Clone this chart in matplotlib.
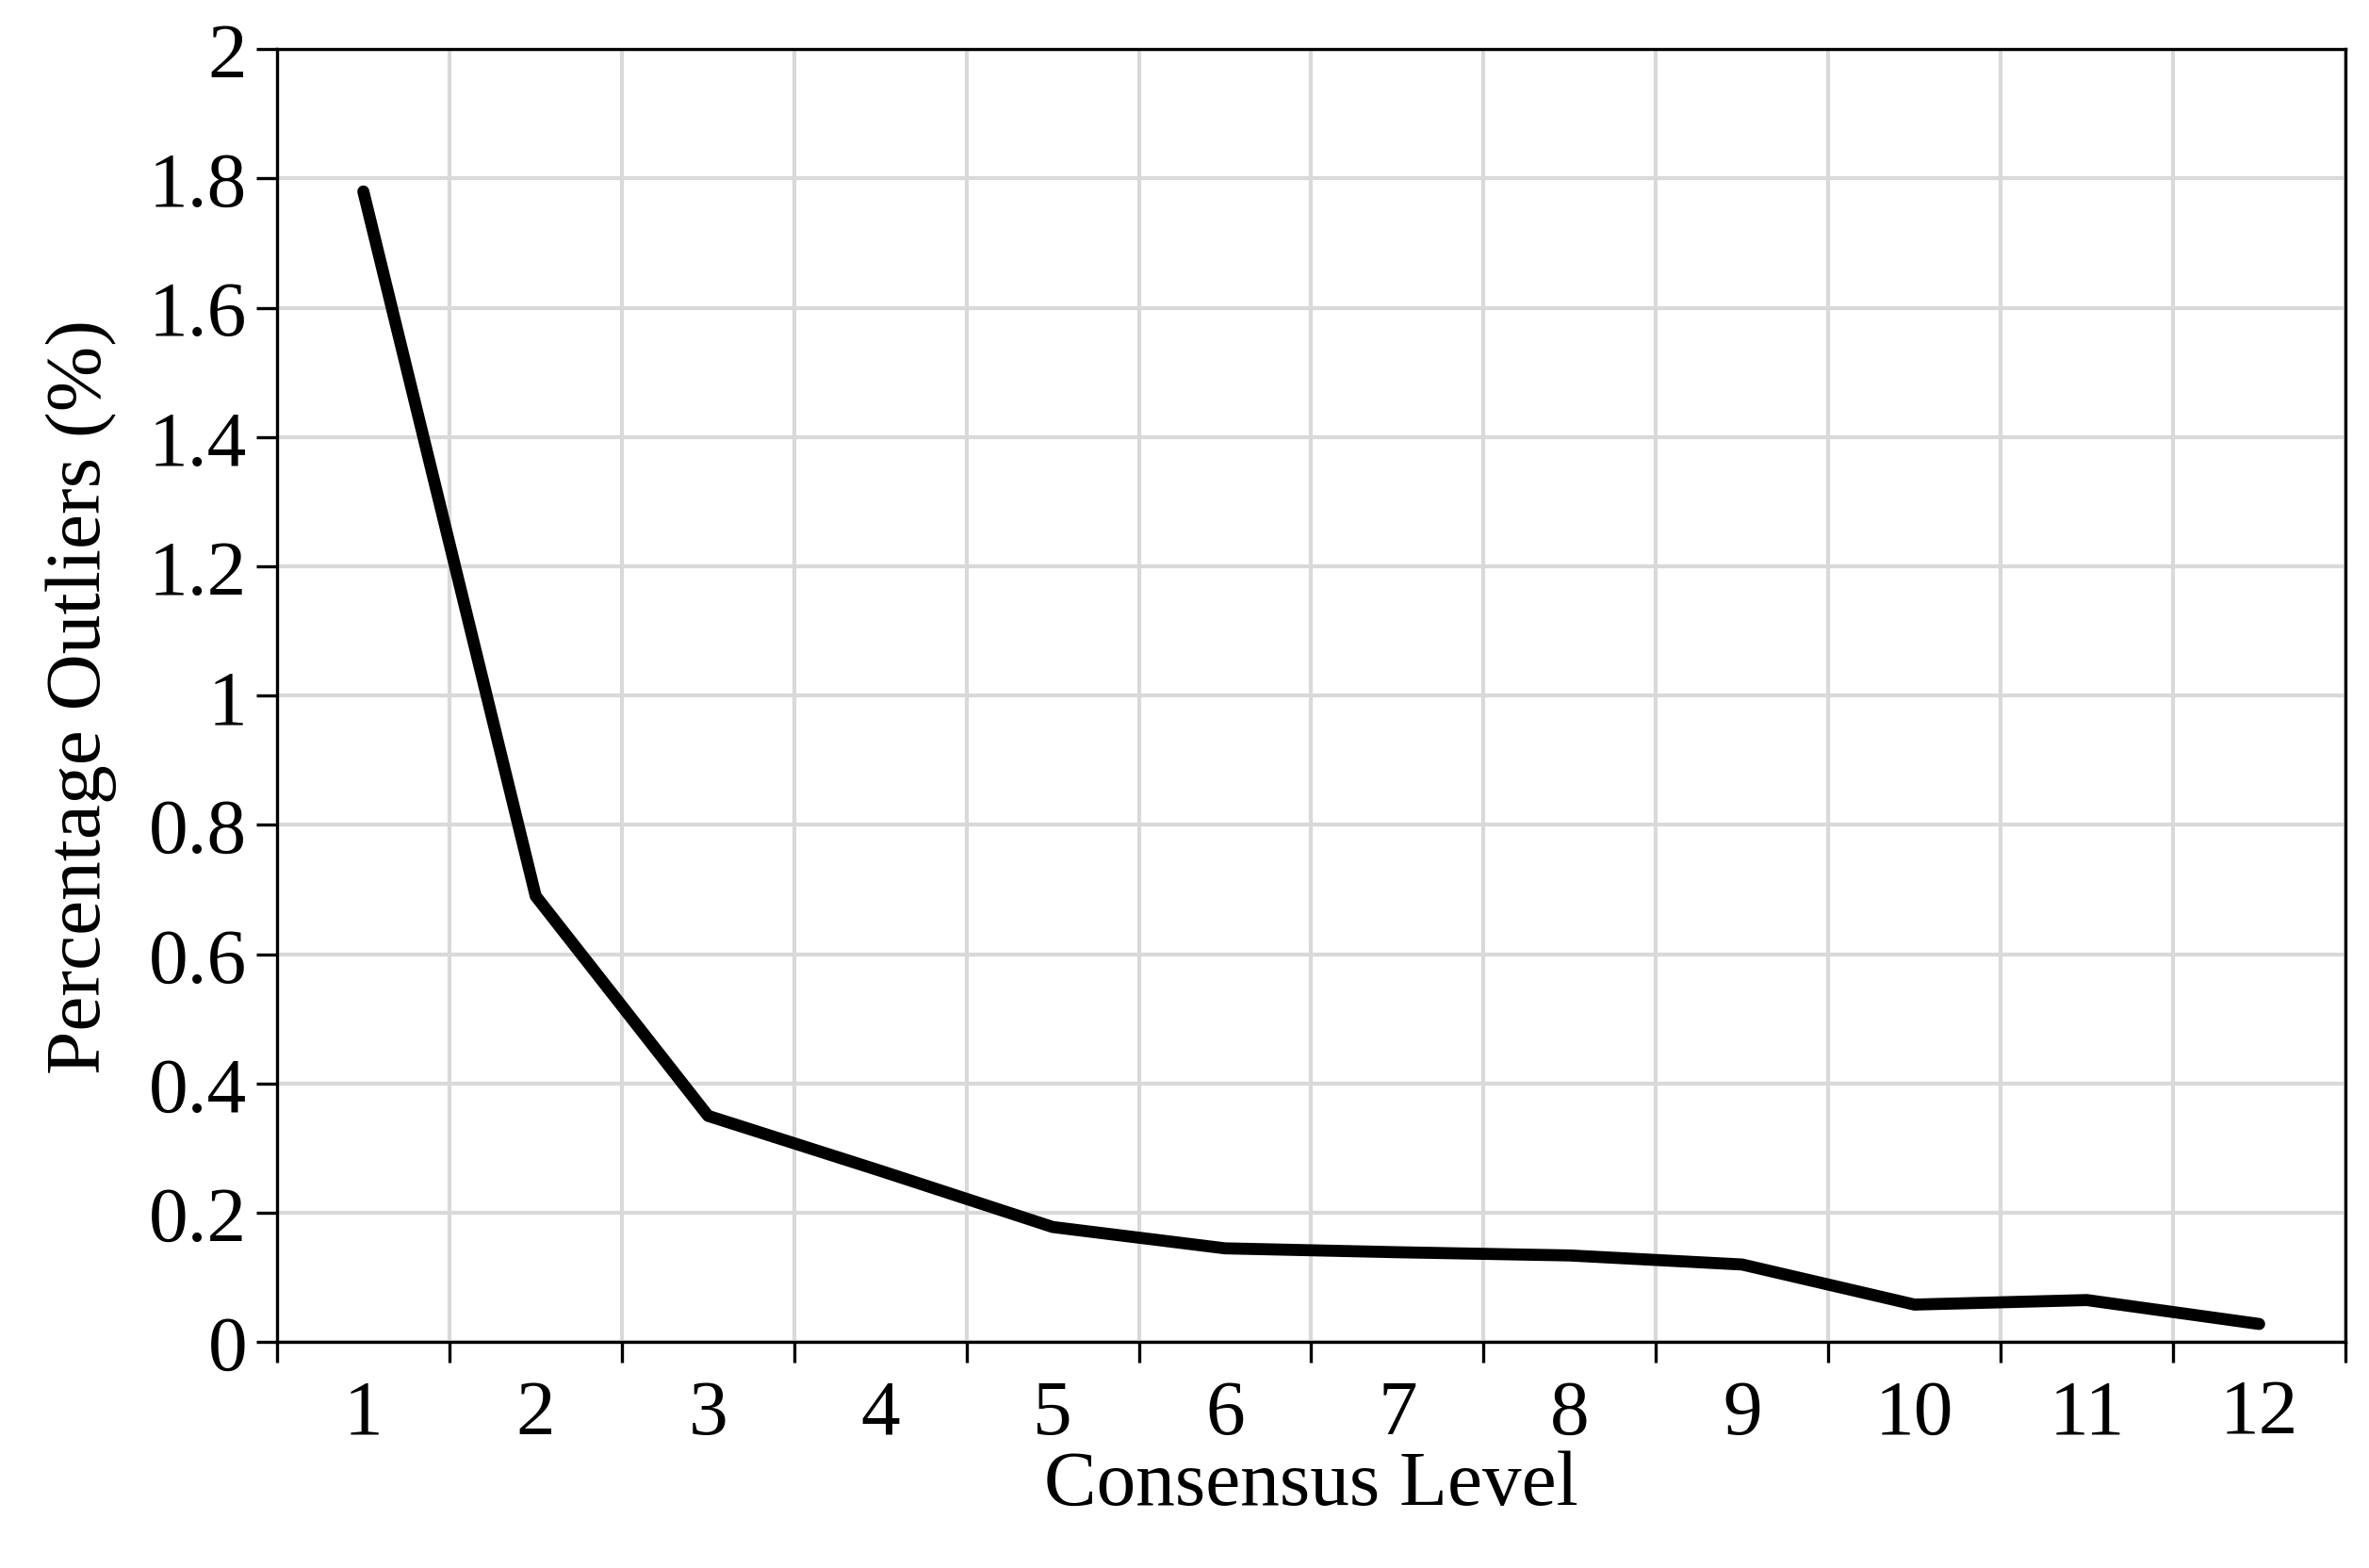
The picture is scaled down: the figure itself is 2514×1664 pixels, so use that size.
import matplotlib
matplotlib.use("Agg")
import matplotlib.pyplot as plt
import numpy as np

# data
levels = [1, 2, 3, 4, 5, 6, 7, 8, 9, 10, 11, 12]
outliers = [1.78, 0.69, 0.35, 0.265, 0.178, 0.145, 0.139, 0.134, 0.12, 0.058, 0.065, 0.028]

plt.rcParams['font.family'] = ['Liberation Serif', 'DejaVu Serif']

fig = plt.figure(figsize=(12.57, 8.325), dpi=200)
ax = fig.add_axes([0.117, 0.144, 0.873, 0.824])

ax.plot(levels, outliers, color='black', lw=4.6, solid_capstyle='round', zorder=3)

ax.set_xlim(0.5, 12.5)
ax.set_ylim(0, 2)
ax.set_yticks(np.arange(0, 2.01, 0.2))
ax.set_yticklabels(['0', '0.2', '0.4', '0.6', '0.8', '1', '1.2', '1.4', '1.6', '1.8', '2'])
ax.set_xticks(levels)
ax.set_xticklabels([str(v) for v in levels])
ax.set_xticks(np.arange(0.5, 12.6, 1), minor=True)
ax.tick_params(axis='x', which='major', length=0, labelsize=30, pad=14)
ax.tick_params(axis='x', which='minor', length=8, width=1.2, direction='out')
ax.tick_params(axis='y', labelsize=30, length=8, width=1.2, direction='out')

ax.grid(True, axis='y', color='#d9d9d9', lw=1.5)
ax.grid(True, axis='x', which='minor', color='#d9d9d9', lw=1.5)
for s in ax.spines.values():
    s.set_linewidth(1.2)

ax.set_xlabel('Consensus Level', fontsize=30, labelpad=0)
ax.set_ylabel('Percentage Outliers (%)', fontsize=30, labelpad=12)

fig.savefig('out.png', dpi=200)
